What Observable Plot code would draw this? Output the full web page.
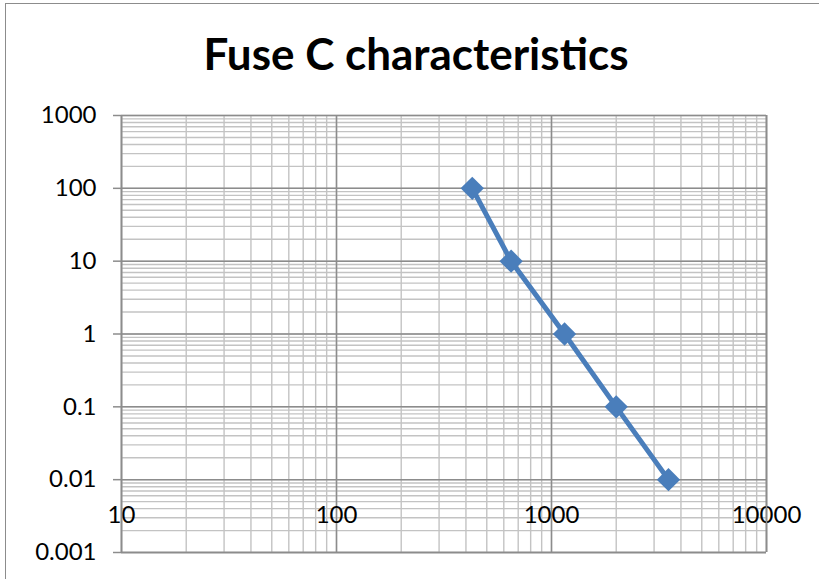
<!DOCTYPE html>
<html><head><meta charset="utf-8">
<script src="https://cdn.jsdelivr.net/npm/d3@7"></script>
<script src="https://cdn.jsdelivr.net/npm/@observablehq/plot@0.6"></script>
<style>
body{margin:0;background:#fff;}
#wrap{position:relative;width:819px;height:579px;overflow:hidden;background:#fff;}
#frame{position:absolute;left:5px;top:3px;width:900px;height:700px;border-left:1.5px solid #8c8c8c;border-top:1.5px solid #8c8c8c;}
#title{position:absolute;left:0;width:832px;top:28px;text-align:center;font-family:Lato,"Open Sans",sans-serif;font-weight:bold;font-size:44px;color:#000;line-height:50px;}
#chart{position:absolute;left:0;top:0;}
</style></head>
<body>
<div id="wrap"><div id="frame"></div><div id="title">Fuse C characteristics</div><div id="chart"></div></div>
<script>
const current = [428, 649, 1150, 2000, 3500];
const time = [100, 10, 1, 0.1, 0.01];
const xMajor = [10, 100, 1000, 10000];
const yMajor = [0.001, 0.01, 0.1, 1, 10, 100, 1000];
const xDomain = [10, 10000];
const yDomain = [0.001, 1000];

const xMinor = d3.scaleLog().domain(xDomain).ticks();
const yMinor = d3.scaleLog().domain(yDomain).ticks();
const data = current.map((c, i) => ({current: c, time: time[i]}));
const fmt = d3.format("~g");

const plot = Plot.plot({
  width: 819,
  height: 579,
  marginLeft: 121,
  marginRight: 53,
  marginTop: 115,
  marginBottom: 27,
  style: {fontFamily: "Lato, 'Open Sans', sans-serif", fontSize: "24px", color: "#000", background: "transparent", overflow: "visible"},
  x: {type: "log", domain: xDomain},
  y: {type: "log", domain: yDomain},
  marks: [
    Plot.gridX(xMinor, {stroke: "#c3c3c3", strokeOpacity: 1, strokeWidth: 1.4}),
    Plot.gridY(yMinor, {stroke: "#c3c3c3", strokeOpacity: 1, strokeWidth: 1.4}),
    Plot.gridX(xMajor, {stroke: "#8c8c8c", strokeOpacity: 1, strokeWidth: 1.5}),
    Plot.gridY(yMajor, {stroke: "#8c8c8c", strokeOpacity: 1, strokeWidth: 1.5}),
    Plot.axisY(yMajor, {tickSize: 8, tickPadding: 17, stroke: "#8c8c8c", strokeWidth: 1.5, fill: "#000", tickFormat: fmt, label: null}),
    Plot.axisX(xMajor, {anchor: "bottom", tickSize: 0, tickPadding: 0, lineAnchor: "middle", dy: -37, fill: "#000", tickFormat: fmt, label: null}),
    Plot.ruleX([10, 10000], {stroke: "#8c8c8c", strokeWidth: 1.6}),
    Plot.ruleY([0.001], {stroke: "#8c8c8c", strokeWidth: 1.6}),
    Plot.line(data, {x: "current", y: "time", stroke: "#4a7ebb", strokeWidth: 5}),
    Plot.dot(data, {x: "current", y: "time", symbol: "diamond2", r: 10.5, fill: "#4a7ebb", stroke: "none"})
  ]
});
document.getElementById("chart").appendChild(plot);
</script>
</body></html>
